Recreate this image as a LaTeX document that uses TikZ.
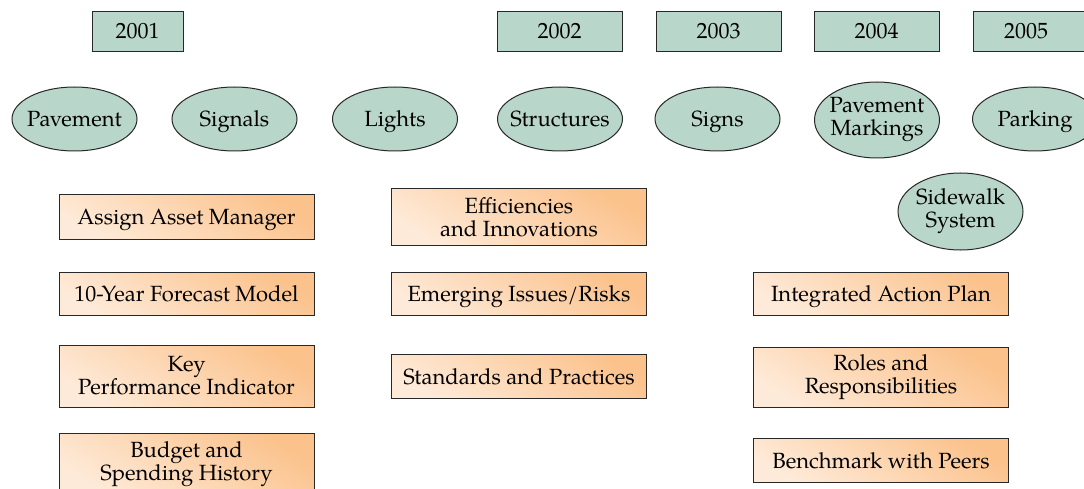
\documentclass[tikz,border=0pt]{standalone}
\usepackage{fontspec}
\setmainfont{texgyrepagella-regular.otf}
\usetikzlibrary{shapes.geometric}
\definecolor{gfill}{RGB}{185,214,203}
\definecolor{oleft}{RGB}{254,234,216}
\definecolor{oright}{RGB}{251,194,140}
\definecolor{edge}{RGB}{40,40,40}
\tikzset{
  yearbox/.style={draw=edge, line width=1pt, fill=gfill, rectangle, inner sep=0pt, minimum height=40pt, text height=14pt, text depth=1pt},
  assetell/.style={draw=edge, line width=1pt, fill=gfill, ellipse, inner xsep=-12pt, inner ysep=0pt, minimum width=125pt, minimum height=64pt, align=center},
  onel/.style={text height=16pt, text depth=0pt},
  taskbox/.style={draw=edge, line width=1pt, left color=oleft, right color=oright, shading angle=148, rectangle, inner sep=0pt, minimum width=255pt, align=center},
}
\begin{document}
\begin{tikzpicture}[x=1pt,y=-1pt,font=\fontsize{22}{23}\selectfont]
\useasboundingbox (0,0) rectangle (1084,489);
\clip (0,0) rectangle (1084,489);
% years
\node[yearbox, minimum width=91pt] (y2001) at (137.5,32) {2001};
\node[yearbox, minimum width=125pt] (y2002) at (559.5,32) {2002};
\node[yearbox, minimum width=125pt] (y2003) at (718.5,32) {2003};
\node[yearbox, minimum width=125pt] (y2004) at (876.5,32) {2004};
\node[yearbox, minimum width=125pt] (y2005) at (1035.5,32) {};
\node[text height=14pt, text depth=1pt] (t2005) at (1026,32) {2005};
% assets
\node[assetell, onel] (pav) at (74.5,119) {Pavement};
\node[assetell, onel] (sig) at (234.5,119) {Signals};
\node[assetell, onel] (lig) at (395,119) {Lights};
\node[assetell, onel] (str) at (560,119) {Structures};
\node[assetell, onel] (sgn) at (717.5,119) {Signs};
\node[assetell, minimum height=76pt] (pm) at (877,120) {Pavement\\Markings};
\node[assetell, onel] (par) at (1035,119) {Parking};
\node[assetell, minimum height=77pt] (sw) at (960.5,211.5) {Sidewalk\\System};
% tasks left
\node[taskbox, onel, minimum height=44pt] (aam) at (186.5,217) {Assign Asset Manager};
\node[taskbox, onel, minimum height=43pt] (tyf) at (186.5,293.5) {10-Year Forecast Model};
\node[taskbox, minimum height=62pt] (kpi) at (186.5,376) {Key\\Performance Indicator};
\node[taskbox, minimum height=62pt] (bsh) at (186.5,464) {Budget and\\Spending History};
% tasks middle
\node[taskbox, minimum height=56pt] (eff) at (519,217) {Efficiencies\\and Innovations};
\node[taskbox, onel, minimum height=43pt] (eir) at (519,293.5) {Emerging Issues/Risks};
\node[taskbox, onel, minimum height=44pt] (sap) at (519,376) {Standards and Practices};
% tasks right
\node[taskbox, onel, minimum height=43pt] (iap) at (881,293.5) {Integrated Action Plan};
\node[taskbox, minimum height=60pt] (rar) at (881,377) {Roles and\\Responsibilities};
\node[taskbox, onel, minimum height=44pt] (bwp) at (881,460) {Benchmark with Peers};
\end{tikzpicture}
\end{document}
